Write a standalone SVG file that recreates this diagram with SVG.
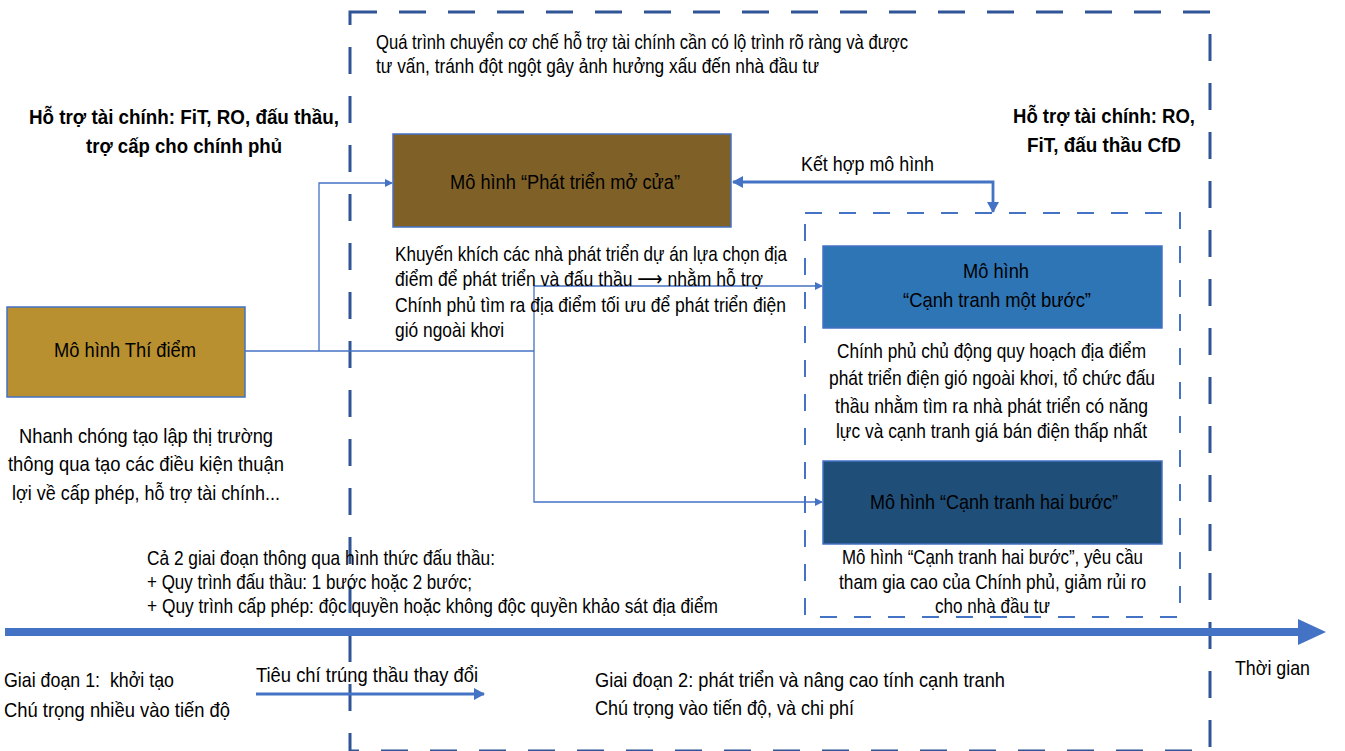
<svg xmlns="http://www.w3.org/2000/svg" width="1345" height="751" viewBox="0 0 1345 751">
<style>
text{font-family:"Liberation Sans Narrow","Liberation Sans","DejaVu Sans",sans-serif;font-size:21px;fill:#000}
.b{font-weight:bold}
.box{stroke:#4472C4;stroke-width:1.5}
.thin{fill:none;stroke:#4472C4;stroke-width:1.3}
.mid{fill:none;stroke:#4472C4;stroke-width:2.8}
</style>
<defs>
<marker id="as" markerWidth="8" markerHeight="8" refX="7" refY="4" orient="auto" markerUnits="userSpaceOnUse">
<path d="M0,0 L8,4 L0,8 z" fill="#4472C4"/>
</marker>
<marker id="am" markerWidth="12" markerHeight="12" refX="10" refY="6" orient="auto-start-reverse" markerUnits="userSpaceOnUse">
<path d="M0,0 L11,6 L0,12 z" fill="#4472C4"/>
</marker>
</defs>

<g id="frames">
<rect x="350" y="12" width="860" height="739" fill="none" stroke="#2F5597" stroke-width="3" stroke-dasharray="27 22"/>
<rect x="805" y="213" width="375" height="404" fill="none" stroke="#4472C4" stroke-width="2" stroke-dasharray="17 17"/>
</g>

<g id="timeline">
<line x1="5" y1="632" x2="1300" y2="632" stroke="#4472C4" stroke-width="8"/>
<path d="M1298,619 L1326,632 L1298,645 z" fill="#4472C4"/>
</g>

<g id="connectors">
<polyline class="thin" points="245,351 534,351"/>
<polyline class="thin" points="319,351 319,183 392,183" marker-end="url(#as)"/>
<polyline class="thin" points="534,351 534,286 822,286" marker-end="url(#as)"/>
<polyline class="thin" points="534,351 534,502 822,502" marker-end="url(#as)"/>
<polyline class="mid" points="993,212 993,182 733,182" marker-end="url(#am)" marker-start="url(#am)"/>
<line class="mid" x1="256" y1="694" x2="484" y2="694" marker-end="url(#am)"/>
</g>

<g id="node-thidiem">
<rect class="box" x="7" y="307" width="238" height="90" fill="#B8902F"/>
<text x="54" y="357" textLength="142" lengthAdjust="spacingAndGlyphs">Mô hình Thí điểm</text>
</g>

<g id="node-motcua">
<rect class="box" x="393" y="134" width="338" height="93" fill="#7F6128"/>
<text x="450" y="189" textLength="230" lengthAdjust="spacingAndGlyphs">Mô hình “Phát triển mở cửa”</text>
</g>

<g id="node-motbuoc">
<rect class="box" x="823" y="246" width="339" height="82" fill="#2E75B6"/>
<text x="963" y="278" textLength="66" lengthAdjust="spacingAndGlyphs">Mô hình</text>
<text x="903" y="307" textLength="188" lengthAdjust="spacingAndGlyphs">“Cạnh tranh một bước”</text>
</g>

<g id="node-haibuoc">
<rect class="box" x="823" y="461" width="339" height="83" fill="#1F4E79"/>
<text x="870" y="509" textLength="248" lengthAdjust="spacingAndGlyphs">Mô hình “Cạnh tranh hai bước”</text>
</g>

<g id="labels">
<text x="376" y="49" textLength="532" lengthAdjust="spacingAndGlyphs">Quá trình chuyển cơ chế hỗ trợ tài chính cần có lộ trình rõ ràng và được</text>
<text x="376" y="73" textLength="443" lengthAdjust="spacingAndGlyphs">tư vấn, tránh đột ngột gây ảnh hưởng xấu đến nhà đầu tư</text>

<text class="b" x="29" y="124" textLength="310" lengthAdjust="spacingAndGlyphs">Hỗ trợ tài chính: FiT, RO, đấu thầu,</text>
<text class="b" x="86" y="153" textLength="196" lengthAdjust="spacingAndGlyphs">trợ cấp cho chính phủ</text>

<text class="b" x="1013" y="123" textLength="182" lengthAdjust="spacingAndGlyphs">Hỗ trợ tài chính: RO,</text>
<text class="b" x="1027" y="152" textLength="154" lengthAdjust="spacingAndGlyphs">FiT, đấu thầu CfD</text>

<text x="801" y="171" textLength="133" lengthAdjust="spacingAndGlyphs">Kết hợp mô hình</text>

<text x="395" y="261" textLength="392" lengthAdjust="spacingAndGlyphs">Khuyến khích các nhà phát triển dự án lựa chọn địa</text>
<text x="395" y="286" textLength="368" lengthAdjust="spacingAndGlyphs">điểm để phát triển và đấu thầu ⟶ nhằm hỗ trợ</text>
<text x="395" y="312" textLength="391" lengthAdjust="spacingAndGlyphs">Chính phủ tìm ra địa điểm tối ưu để phát triển điện</text>
<text x="395" y="337" textLength="109" lengthAdjust="spacingAndGlyphs">gió ngoài khơi</text>

<text x="19" y="443" textLength="254" lengthAdjust="spacingAndGlyphs">Nhanh chóng tạo lập thị trường</text>
<text x="8" y="471" textLength="276" lengthAdjust="spacingAndGlyphs">thông qua tạo các điều kiện thuận</text>
<text x="12" y="500" textLength="268" lengthAdjust="spacingAndGlyphs">lợi về cấp phép, hỗ trợ tài chính...</text>

<text x="837" y="358" textLength="309" lengthAdjust="spacingAndGlyphs">Chính phủ chủ động quy hoạch địa điểm</text>
<text x="829" y="385" textLength="326" lengthAdjust="spacingAndGlyphs">phát triển điện gió ngoài khơi, tổ chức đấu</text>
<text x="835" y="413" textLength="313" lengthAdjust="spacingAndGlyphs">thầu nhằm tìm ra nhà phát triển có năng</text>
<text x="836" y="438" textLength="311" lengthAdjust="spacingAndGlyphs">lực và cạnh tranh giá bán điện thấp nhất</text>

<text x="842" y="564" textLength="301" lengthAdjust="spacingAndGlyphs">Mô hình “Cạnh tranh hai bước”, yêu cầu</text>
<text x="839" y="589" textLength="307" lengthAdjust="spacingAndGlyphs">tham gia cao của Chính phủ, giảm rủi ro</text>
<text x="935" y="613" textLength="115" lengthAdjust="spacingAndGlyphs">cho nhà đầu tư</text>

<text x="147" y="565" textLength="348" lengthAdjust="spacingAndGlyphs">Cả 2 giai đoạn thông qua hình thức đấu thầu:</text>
<text x="147" y="589" textLength="325" lengthAdjust="spacingAndGlyphs">+ Quy trình đấu thầu: 1 bước hoặc 2 bước;</text>
<text x="147" y="613" textLength="571" lengthAdjust="spacingAndGlyphs">+ Quy trình cấp phép: độc quyền hoặc không độc quyền khảo sát địa điểm</text>

<text x="4" y="687" textLength="170" lengthAdjust="spacingAndGlyphs" xml:space="preserve">Giai đoạn 1:  khởi tạo</text>
<text x="4" y="717" textLength="226" lengthAdjust="spacingAndGlyphs">Chú trọng nhiều vào tiến độ</text>

<text x="256" y="682" textLength="222" lengthAdjust="spacingAndGlyphs">Tiêu chí trúng thầu thay đổi</text>

<text x="595" y="687" textLength="410" lengthAdjust="spacingAndGlyphs">Giai đoạn 2: phát triển và nâng cao tính cạnh tranh</text>
<text x="595" y="715" textLength="259" lengthAdjust="spacingAndGlyphs">Chú trọng vào tiến độ, và chi phí</text>

<text x="1235" y="675" textLength="75" lengthAdjust="spacingAndGlyphs">Thời gian</text>
</g>
</svg>
